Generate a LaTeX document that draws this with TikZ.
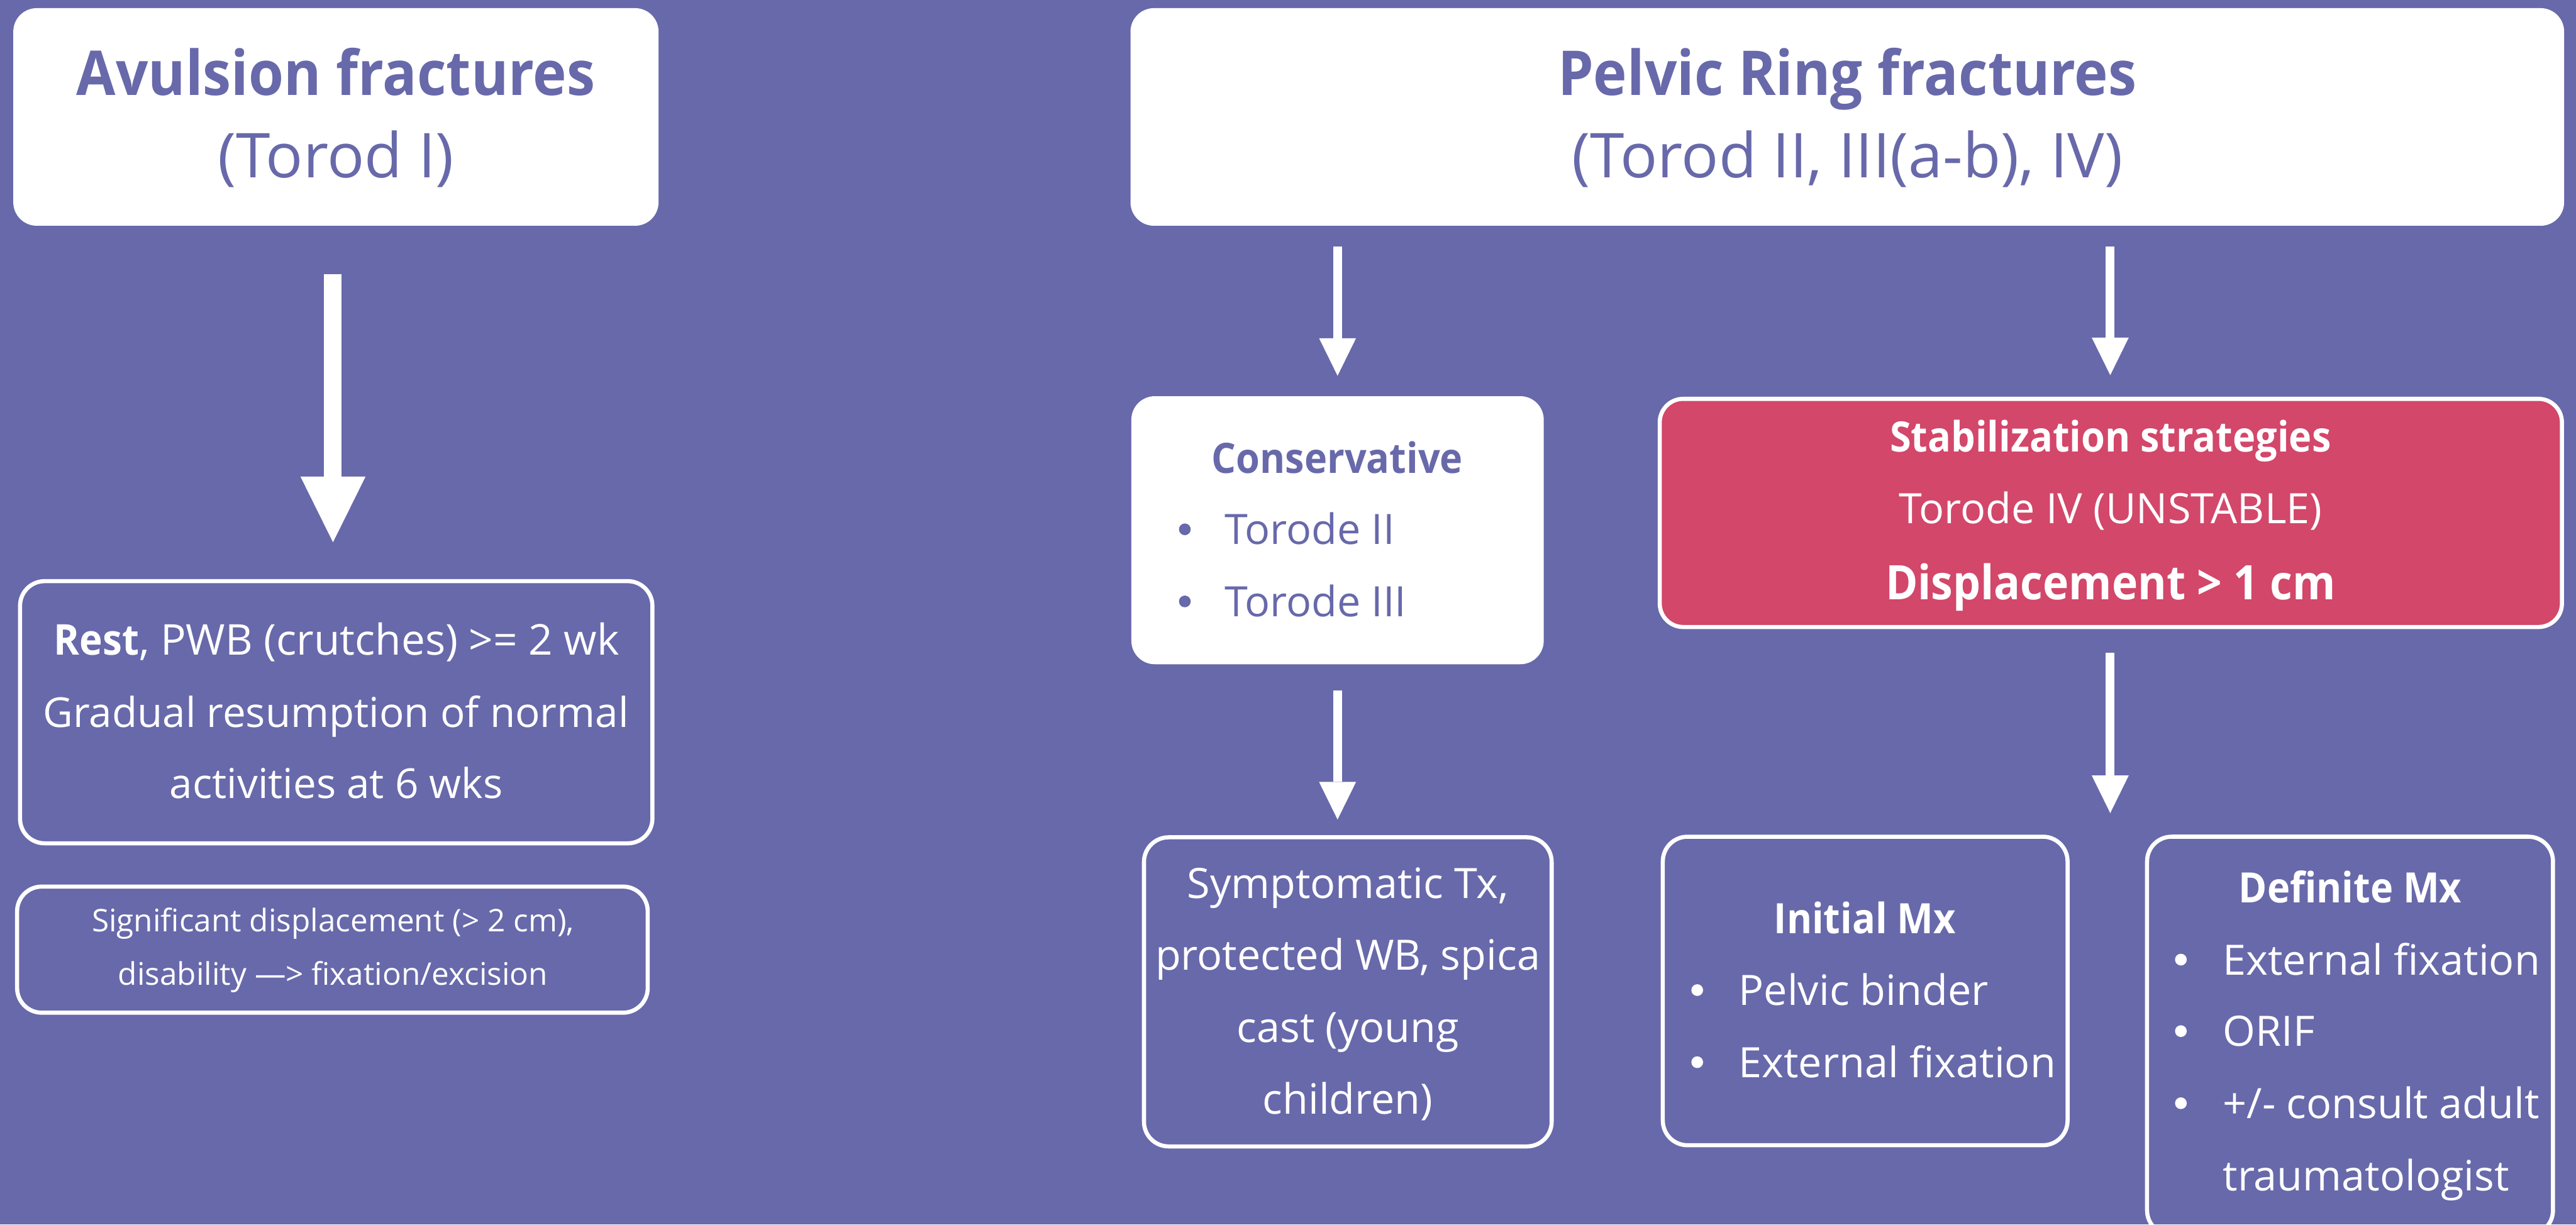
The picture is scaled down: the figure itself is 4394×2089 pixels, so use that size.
\documentclass[tikz,border=0pt]{standalone}
\usepackage{fontspec}
\setmainfont{Open Sans}[BoldFeatures={FakeStretch=0.92}]
\usetikzlibrary{arrows.meta}
\definecolor{pur}{RGB}{104,105,170}
\definecolor{pnk}{RGB}{210,71,106}
\tikzset{
  wbox/.style={rectangle, fill=white, draw=none, rounded corners=0.4cm, inner sep=0pt},
  obox/.style={rectangle, draw=white, line width=0.07cm, rounded corners=0.42cm, inner sep=0pt},
  pbox/.style={rectangle, fill=pnk, draw=white, line width=0.07cm, rounded corners=0.4cm, inner sep=0pt},
  ttlb/.style={font=\fontsize{30}{36}\selectfont\bfseries, text=pur, inner sep=0pt, anchor=base},
  ttlr/.style={font=\fontsize{30}{36}\selectfont, text=pur, inner sep=0pt, anchor=base},
  bodyw/.style={font=\fontsize{20.3}{24}\selectfont, text=white, inner sep=0pt, anchor=base},
  bodyp/.style={font=\fontsize{20.3}{24}\selectfont, text=pur, inner sep=0pt, anchor=base},
  restw/.style={font=\fontsize{20.0}{24}\selectfont, text=white, inner sep=0pt, anchor=base},
  sigw/.style={font=\fontsize{15.1}{18}\selectfont, text=white, inner sep=0pt, anchor=base},
  dispw/.style={font=\fontsize{23.1}{28}\selectfont\bfseries, text=white, inner sep=0pt, anchor=base},
  itemw/.style={bodyw, anchor=base west},
  itemp/.style={bodyp, anchor=base west},
  bulw/.style={circle, fill=white, draw=none, inner sep=0pt, minimum size=0.2cm},
  bulp/.style={circle, fill=pur, draw=none, inner sep=0pt, minimum size=0.2cm},
  bigarr/.style={draw=white, line width=0.3cm, -{Triangle[width=1.11cm, length=1.12cm, line width=0pt]}},
  smarr/.style={draw=white, line width=0.15cm, -{Triangle[width=0.63cm, length=0.64cm, line width=0pt]}},
}
\begin{document}
\begin{tikzpicture}[x=0.01cm, y=-0.01cm]
\useasboundingbox (0,0) rectangle (4394,2089);
\clip (0,0) rectangle (4394,2089);
\fill[pur] (0,0) rectangle (4394,2089);

% title boxes
\node[wbox, minimum width=11cm, minimum height=3.71cm] (av) at (573,199.5) {};
\node[ttlb] (av1) at (573,163) {Avulsion fractures};
\node[ttlr] (av2) at (573,303) {(Torod I)};

\node[wbox, minimum width=24.44cm, minimum height=3.71cm] (pr) at (3151,199.5) {};
\node[ttlb] (pr1) at (3151,163) {Pelvic Ring fractures};
\node[ttlr] (pr2) at (3151,303) {(Torod II, III(a-b), IV)};

% left column
\node[obox, minimum width=10.78cm, minimum height=4.47cm] (rest) at (573.5,1215) {};
\node[restw, font=\fontsize{20.6}{24}\selectfont] (rest1) at (574,1117) {\textbf{Rest}, PWB (crutches) >= 2 wk};
\node[restw] (rest2) at (573,1241) {Gradual resumption of normal};
\node[restw] (rest3) at (573.5,1362) {activities at 6 wks};

\node[obox, minimum width=10.75cm, minimum height=2.15cm] (sig) at (567,1620) {};
\node[sigw] (sig1) at (568,1589) {Significant displacement (> 2 cm),};
\node[sigw] (sig2) at (568,1680) {disability —> fixation/excision};

% conservative
\node[wbox, minimum width=7.03cm, minimum height=4.57cm] (cons) at (2281.5,904.5) {};
\node[bodyp, font=\fontsize{20.3}{24}\selectfont\bfseries] (cons0) at (2281,807) {Conservative};
\node[bulp] (consb1) at (2021,903) {};
\node[itemp] (cons1) at (2088,929) {Torode II};
\node[bulp] (consb2) at (2021,1026) {};
\node[itemp] (cons2) at (2088,1052) {Torode III};

% stabilization
\node[pbox, minimum width=15.38cm, minimum height=3.89cm] (stab) at (3600.5,875) {};
\node[bodyw, font=\fontsize{20.3}{24}\selectfont\bfseries] (stab1) at (3600,771) {Stabilization strategies};
\node[bodyw] (stab2) at (3600,893) {Torode IV (UNSTABLE)};
\node[dispw] (stab3) at (3600,1023) {Displacement > 1 cm};

% symptomatic
\node[obox, minimum width=6.95cm, minimum height=5.27cm] (sym) at (2299,1692) {};
\node[bodyw] (sym1) at (2299,1532) {Symptomatic Tx,};
\node[bodyw] (sym2) at (2299,1655) {protected WB, spica};
\node[bodyw] (sym3) at (2299,1778) {cast (young};
\node[bodyw] (sym4) at (2299,1900) {children)};

% initial
\node[obox, minimum width=6.90cm, minimum height=5.26cm] (init) at (3181.5,1690.5) {};
\node[bodyw, font=\fontsize{20.3}{24}\selectfont\bfseries] (init0) at (3181,1592) {Initial Mx};
\node[bulw] (initb1) at (2895,1689) {};
\node[itemw] (init1) at (2965,1715) {Pelvic binder};
\node[bulw] (initb2) at (2895,1812) {};
\node[itemw] (init2) at (2965,1838) {External fixation};

% definite
\node[obox, minimum width=6.92cm, minimum height=6.79cm] (def) at (4008.5,1767) {};
\node[bodyw, font=\fontsize{20.3}{24}\selectfont\bfseries] (def0) at (4009,1540) {Definite Mx};
\node[bulw] (defb1) at (3720,1637) {};
\node[itemw] (def1) at (3791,1663) {External fixation};
\node[bulw] (defb2) at (3720,1759) {};
\node[itemw] (def2) at (3791,1785) {ORIF};
\node[bulw] (defb3) at (3720,1882) {};
\node[itemw] (def3) at (3791,1908) {+/- consult adult};
\node[itemw] (def4) at (3791,2031) {traumatologist};

% arrows
\coordinate (a1s) at (568,468);
\coordinate (a1e) at (568,925);
\coordinate (a2s) at (2281.5,421);
\coordinate (a2e) at (2281.5,641);
\coordinate (a3s) at (3599.5,421);
\coordinate (a3e) at (3599.5,640);
\coordinate (a4s) at (2281.5,1178);
\coordinate (a4e) at (2281.5,1398);
\coordinate (a5s) at (3599.5,1113);
\coordinate (a5e) at (3599.5,1387);
\draw[bigarr] (a1s) -- (a1e);
\draw[smarr] (a2s) -- (a2e);
\draw[smarr] (a3s) -- (a3e);
\draw[smarr] (a4s) -- (a4e);
\draw[smarr] (a5s) -- (a5e);
\end{tikzpicture}
\end{document}
